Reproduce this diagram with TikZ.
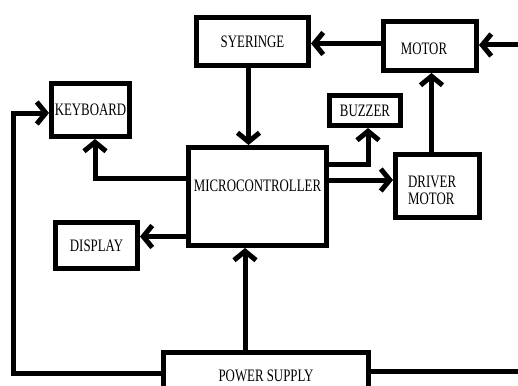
\documentclass[tikz,border=0pt]{standalone}
\usepackage{fontspec}
\setmainfont{Liberation Serif}[FakeStretch=0.735]
\usetikzlibrary{arrows.meta}
\newcommand\boxfont{\fontsize{17.5}{17}\selectfont}
\begin{document}
\begin{tikzpicture}[x=1pt,y=-1pt,
  box/.style={draw, line width=5pt, inner sep=0pt, font=\boxfont},
  txt/.style={font=\boxfont, inner sep=0pt},
  arr/.style={line width=5pt, -{Straight Barb[length=9pt,width=22pt]}},
  ln/.style={line width=5pt}]
\useasboundingbox (0,0) rectangle (518,385);
\clip (0,0) rectangle (518,385);
% boxes
\node[box, minimum width=112pt, minimum height=48pt] (syr) at (252.5,41.5) {SYERINGE};
\node[box, minimum width=93pt, minimum height=49pt, label={[txt, xshift=-6pt, yshift=-3pt]center:MOTOR}] (mot) at (430,46) {};
\node[box, minimum width=78pt, minimum height=53pt] (kb) at (90.5,110) {KEYBOARD};
\node[box, minimum width=138pt, minimum height=98pt, label={[txt, yshift=11pt]center:MICROCONTROLLER}] (mc) at (257.5,196.5) {};
\node[box, minimum width=71pt, minimum height=30pt] (buz) at (365,110.5) {BUZZER};
\node[box, minimum width=84pt, minimum height=63pt, label={[txt, align=left, anchor=west, xshift=15pt, yshift=-4pt]west:DRIVER\\MOTOR}] (drv) at (437.5,186) {};
\node[box, minimum width=82pt, minimum height=46pt] (dsp) at (96.5,245.5) {DISPLAY};
\node[box, minimum width=205pt, minimum height=41pt, label={[txt, yshift=-3pt]center:POWER SUPPLY}] (pow) at (266,373) {};
% free ends
\coordinate (inR) at (518,45);
\coordinate (outR) at (518,371.5);
\coordinate (lc) at (13.5,373.5);
% connectors
\draw[arr] (inR) -- (inR -| mot.east);
\draw[arr] ([yshift=2.5pt]mot.west) -- ([yshift=2.5pt]mot.west -| syr.east);
\draw[arr] ([xshift=-4pt]syr.south) -- ([xshift=-4pt]syr.south |- mc.north);
\draw[arr] ([yshift=18pt]mc.west) -| ([xshift=4.5pt]kb.south);
\draw[arr] ([yshift=32pt]mc.east) -| ([xshift=3pt]buz.south);
\draw[arr] ([yshift=16.5pt]mc.east) -- ([yshift=16.5pt]mc.east -| drv.west);
\draw[arr] ([xshift=-6pt]drv.north) -- ([xshift=-6pt]drv.north |- mot.south);
\draw[arr] ([yshift=-40pt]mc.west) -- ([yshift=-40pt]mc.west -| dsp.east);
\draw[arr] ([xshift=-21pt]pow.north) -- ([xshift=-21pt]pow.north |- mc.south);
\draw[arr] (pow.west |- lc) -- (lc) |- ([yshift=-3pt]kb.west);
\draw[ln] (outR -| pow.east) -- (outR);
\end{tikzpicture}
\end{document}
